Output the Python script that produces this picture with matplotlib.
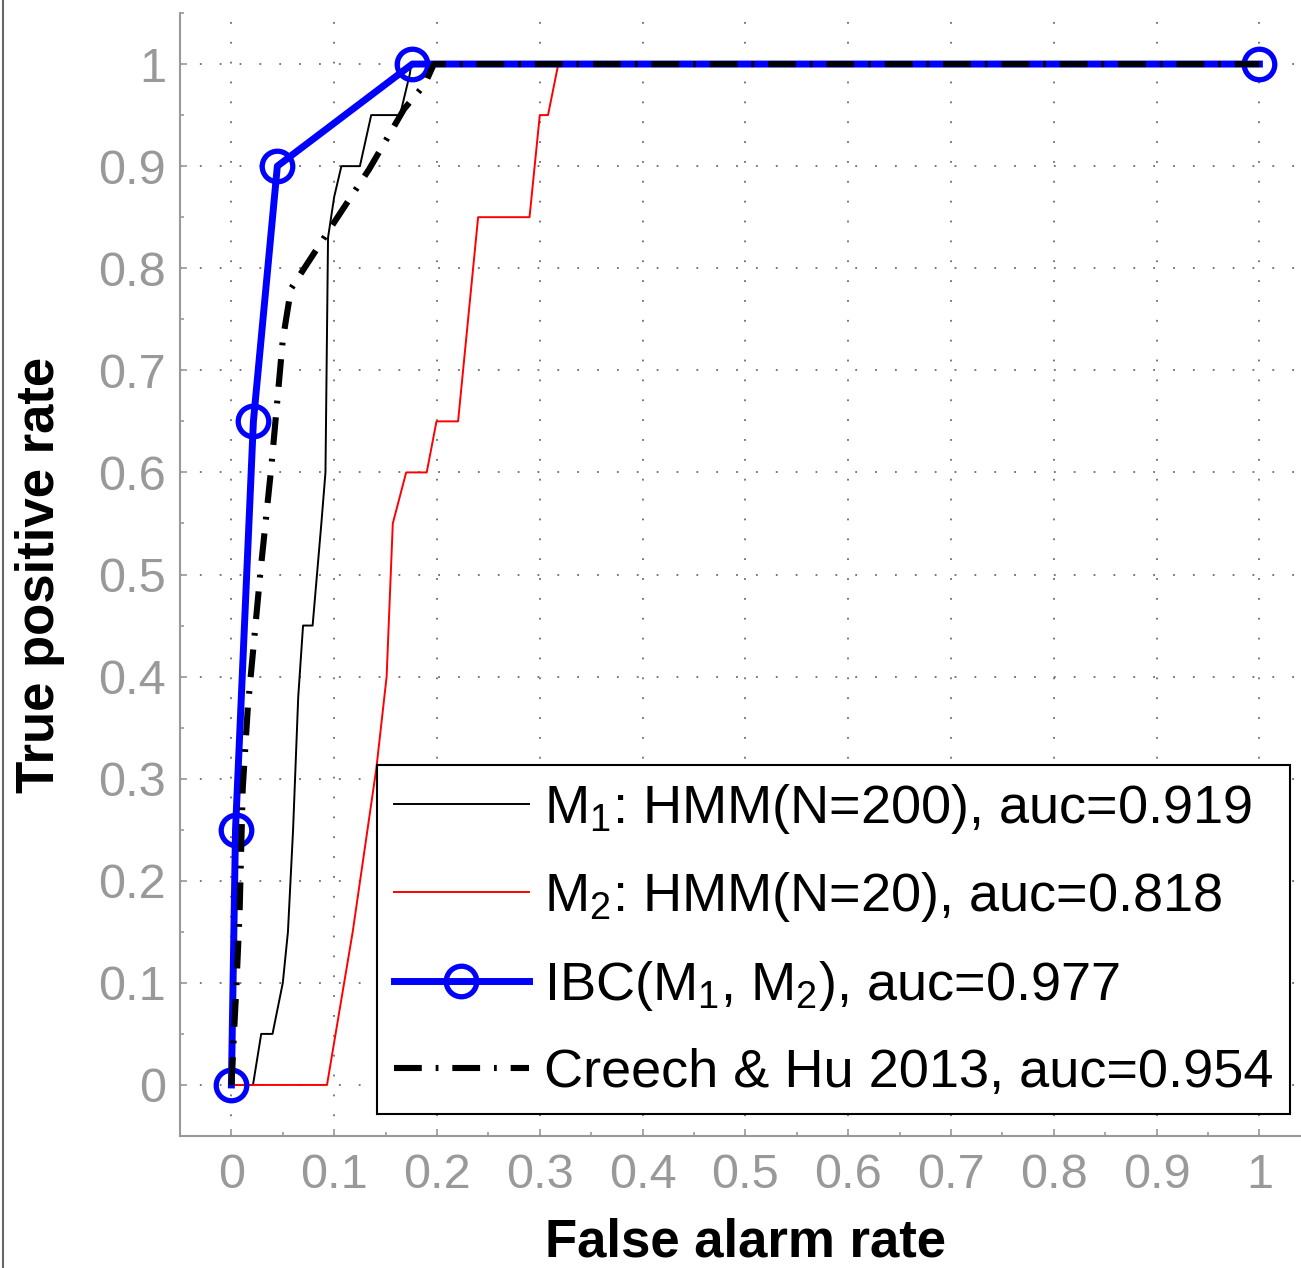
import numpy as np
import matplotlib
matplotlib.use('Agg')
import matplotlib.pyplot as plt
from matplotlib.lines import Line2D

# ROC curves
m1_far = [0.0, 0.021, 0.029, 0.040, 0.050, 0.055, 0.060, 0.065, 0.0697, 0.079, 0.0875,
          0.0915, 0.094, 0.100, 0.107, 0.125, 0.136, 0.164, 0.1735, 0.175, 1.0]
m1_tpr = [0.0, 0.0, 0.05, 0.05, 0.10, 0.15, 0.25, 0.38, 0.45, 0.45, 0.55,
          0.60, 0.83, 0.87, 0.90, 0.90, 0.95, 0.95, 0.99, 1.0, 1.0]

m2_far = [0.0, 0.093, 0.118, 0.141, 0.151, 0.157, 0.170, 0.190, 0.1995, 0.2205,
          0.240, 0.290, 0.300, 0.308, 0.318, 1.0]
m2_tpr = [0.0, 0.0, 0.15, 0.31, 0.40, 0.55, 0.60, 0.60, 0.65, 0.65,
          0.85, 0.85, 0.95, 0.95, 1.0, 1.0]

ibc_far = [0.0, 0.004, 0.0214, 0.0447, 0.176, 1.0]
ibc_tpr = [0.0, 0.25, 0.65, 0.90, 1.0, 1.0]

creech_far = [0.0, 0.005, 0.008, 0.011, 0.016, 0.028, 0.039, 0.050, 0.058, 0.100,
              0.134, 0.168, 0.188, 0.197, 1.0]
creech_tpr = [0.0, 0.10, 0.17, 0.29, 0.37, 0.50, 0.607, 0.73, 0.78, 0.845,
              0.897, 0.956, 0.98, 1.0, 1.0]

labels = ['M$_1$: HMM(N=200), auc=0.919',
          'M$_2$: HMM(N=20), auc=0.818',
          'IBC(M$_1$, M$_2$), auc=0.977',
          'Creech & Hu 2013, auc=0.954']

plt.rcParams['font.family'] = ['Liberation Sans', 'DejaVu Sans']
plt.rcParams['mathtext.default'] = 'regular'
plt.rcParams['lines.scale_dashes'] = False

W, H = 1301, 1268
fig = plt.figure(figsize=(W/100, H/100), dpi=100)
ax = fig.add_axes([180/W, (H-1136)/H, 1130.8/W, 1123/H])

ax.plot(m1_far, m1_tpr, color='k', lw=1.4, label=labels[0])
ax.plot(m2_far, m2_tpr, color='r', lw=1.4, label=labels[1])
ax.plot(ibc_far, ibc_tpr, color='b', lw=5, marker='o', ms=22, mew=3.8,
        mfc='none', label=labels[2], zorder=3)
ax.plot(creech_far, creech_tpr, color='k', lw=4.4, ls=(0, (20, 10, 2, 10)),
        label=labels[3], zorder=4)

ax.set_xlim(-0.05, 1.05)
ax.set_ylim(-0.05, 1.05)
ticks = np.round(np.arange(0, 1.01, 0.1), 1)
ticklab = ['0' if t == 0 else ('1' if t == 1 else f'{t:g}') for t in ticks]
ax.set_xticks(ticks)
ax.set_xticklabels(ticklab)
ax.set_yticks(ticks)
ax.set_yticklabels(ticklab)
ax.set_xticks(np.arange(-0.05, 1.051, 0.1), minor=True)
ax.set_yticks(np.arange(-0.05, 1.051, 0.1), minor=True)

gray = '#999999'
for s in ['top', 'right']:
    ax.spines[s].set_visible(False)
for s in ['left', 'bottom']:
    ax.spines[s].set_color(gray)
    ax.spines[s].set_linewidth(1.5)
ax.tick_params(which='both', direction='in', color=gray, width=1.2)
ax.tick_params(which='major', length=5, labelsize=35, labelcolor=gray)
ax.tick_params(which='minor', length=3)
ax.tick_params(axis='y', pad=10)
ax.tick_params(axis='x', pad=12)
ax.grid(True, which='major', color='#777777', ls=(0, (1.3, 13)), lw=1.4)

ax.set_xlabel('False alarm rate', fontsize=38, fontweight='bold', va='center')
ax.xaxis.set_label_coords(0.5, -0.0945)
ax.set_ylabel('True positive rate', fontsize=38, fontweight='bold', va='center')
ax.yaxis.set_label_coords(-0.1235, 0.5)

leg = ax.legend(loc='lower right', bbox_to_anchor=(0.9816, 0.0196), borderaxespad=0,
                fontsize=39, handlelength=2.5, handletextpad=0.28, borderpad=0.3,
                labelspacing=0.64, fancybox=False, framealpha=1, edgecolor='k')
leg.get_frame().set_linewidth(1.5)

fig.add_artist(Line2D([3/W, 3/W], [0, 1], color='#666666', lw=1.5))

plt.savefig('out.png', dpi=100)
